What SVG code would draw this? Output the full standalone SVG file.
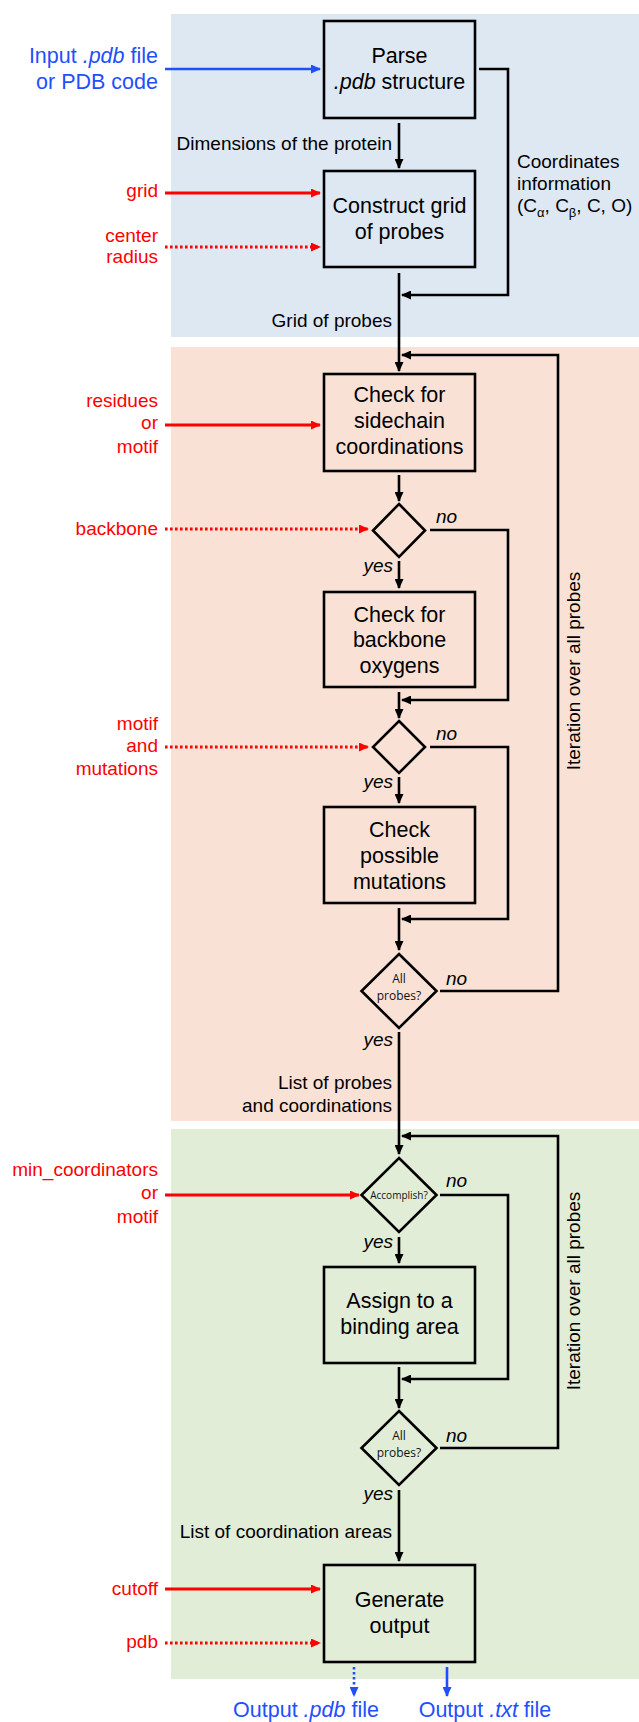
<svg xmlns="http://www.w3.org/2000/svg" width="639" height="1722" viewBox="0 0 639 1722">
<defs>
<style>
text{font-family:"Liberation Sans",Arial,sans-serif;}
.box{fill:none;stroke:#000;stroke-width:2.6;}
.bt{font-size:21.5px;fill:#000;text-anchor:middle;}
.lb{font-size:19px;fill:#000;}
.end{text-anchor:end;}
.it{font-style:italic;}
.red{font-size:19px;fill:#ff0000;text-anchor:end;}
.blue{font-size:21.5px;fill:#1f4fff;}
.dt{font-family:"Open Sans",sans-serif;fill:#111;text-anchor:middle;}
.k{fill:none;stroke:#000;stroke-width:2.6;}
.r{fill:none;stroke:#ff0000;stroke-width:2.8;}
.b{fill:none;stroke:#1f4fff;stroke-width:2.6;}
.dot{stroke-dasharray:2.6 2.4;}
</style>
<marker id="ak" markerUnits="userSpaceOnUse" markerWidth="10" markerHeight="9" refX="9" refY="4.5" orient="auto"><path d="M0,0 L10,4.5 L0,9 z" fill="#000"/></marker>
<marker id="ar" markerUnits="userSpaceOnUse" markerWidth="10" markerHeight="9" refX="9" refY="4.5" orient="auto"><path d="M0,0 L10,4.5 L0,9 z" fill="#ff0000"/></marker>
<marker id="ab" markerUnits="userSpaceOnUse" markerWidth="10" markerHeight="9" refX="9" refY="4.5" orient="auto"><path d="M0,0 L10,4.5 L0,9 z" fill="#1f4fff"/></marker>
</defs>
<rect width="639" height="1722" fill="#fff"/>
<g id="panels">
<rect x="171" y="14" width="468" height="323" fill="#dee8f3"/>
<rect x="171" y="347" width="468" height="774" fill="#f9e2d5"/>
<rect x="171" y="1129" width="468" height="550" fill="#e2edd8"/>
</g>
<g id="connectors">
<line class="b" x1="165" y1="69" x2="320" y2="69" marker-end="url(#ab)"/>
<line class="k" x1="399" y1="123" x2="399" y2="168" marker-end="url(#ak)"/>
<line class="r" x1="165" y1="193" x2="320" y2="193" marker-end="url(#ar)"/>
<line class="r dot" x1="165" y1="247" x2="320" y2="247" marker-end="url(#ar)"/>
<path class="k" d="M479,69 H508 V295 H402" marker-end="url(#ak)"/>
<line class="k" x1="399" y1="273" x2="399" y2="371" marker-end="url(#ak)"/>
<path class="k" d="M440,991 H558 V355 H402" marker-end="url(#ak)"/>
<line class="r" x1="165" y1="425" x2="320" y2="425" marker-end="url(#ar)"/>
<line class="k" x1="399" y1="475" x2="399" y2="501" marker-end="url(#ak)"/>
<path class="k" d="M430,530 H508 V700 H402" marker-end="url(#ak)"/>
<line class="k" x1="399" y1="561" x2="399" y2="588" marker-end="url(#ak)"/>
<line class="r dot" x1="165" y1="529" x2="368" y2="529" marker-end="url(#ar)"/>
<line class="k" x1="399" y1="692" x2="399" y2="718" marker-end="url(#ak)"/>
<path class="k" d="M430,747 H508 V919 H402" marker-end="url(#ak)"/>
<line class="r dot" x1="165" y1="747" x2="368" y2="747" marker-end="url(#ar)"/>
<line class="k" x1="399" y1="777" x2="399" y2="803" marker-end="url(#ak)"/>
<line class="k" x1="399" y1="908" x2="399" y2="950" marker-end="url(#ak)"/>
<line class="k" x1="399" y1="1032" x2="399" y2="1154" marker-end="url(#ak)"/>
<path class="k" d="M440,1448 H558 V1136 H402" marker-end="url(#ak)"/>
<path class="k" d="M440,1195 H508 V1379 H402" marker-end="url(#ak)"/>
<line class="r" x1="165" y1="1195" x2="359" y2="1195" marker-end="url(#ar)"/>
<line class="k" x1="399" y1="1237" x2="399" y2="1263" marker-end="url(#ak)"/>
<line class="k" x1="399" y1="1367" x2="399" y2="1408" marker-end="url(#ak)"/>
<line class="k" x1="399" y1="1490" x2="399" y2="1561" marker-end="url(#ak)"/>
<line class="r" x1="165" y1="1589" x2="320" y2="1589" marker-end="url(#ar)"/>
<line class="r dot" x1="165" y1="1643" x2="320" y2="1643" marker-end="url(#ar)"/>
<line class="b dot" x1="354" y1="1667" x2="354" y2="1696" marker-end="url(#ab)"/>
<line class="b" x1="447" y1="1667" x2="447" y2="1696" marker-end="url(#ab)"/>
</g>
<g id="parse">
<rect class="box" x="324" y="21" width="151" height="97"/>
<text class="bt" x="399.5" y="63">Parse</text>
<text class="bt" x="399.5" y="89"><tspan class="it">.pdb</tspan> structure</text>
</g>
<g id="construct">
<rect class="box" x="324" y="171" width="151" height="96"/>
<text class="bt" x="399.5" y="213">Construct grid</text>
<text class="bt" x="399.5" y="239">of probes</text>
</g>
<g id="sidechain">
<rect class="box" x="324" y="374" width="151" height="97"/>
<text class="bt" x="399.5" y="402">Check for</text>
<text class="bt" x="399.5" y="428">sidechain</text>
<text class="bt" x="399.5" y="454">coordinations</text>
</g>
<g id="dec1"><path class="box" d="M399,504 L425,530.5 L399,557 L373,530.5 Z"/></g>
<g id="backbone">
<rect class="box" x="324" y="592" width="151" height="95"/>
<text class="bt" x="399.5" y="622">Check for</text>
<text class="bt" x="399.5" y="647">backbone</text>
<text class="bt" x="399.5" y="673">oxygens</text>
</g>
<g id="dec2"><path class="box" d="M399,721 L425,747 L399,773 L373,747 Z"/></g>
<g id="mutations">
<rect class="box" x="324" y="807" width="151" height="96"/>
<text class="bt" x="399.5" y="837">Check</text>
<text class="bt" x="399.5" y="863">possible</text>
<text class="bt" x="399.5" y="889">mutations</text>
</g>
<g id="dec3">
<path class="box" d="M399,954 L436.5,991 L399,1028 L361.5,991 Z"/>
<text class="dt" x="399" y="983" font-size="12">All</text>
<text class="dt" x="399" y="1000" font-size="12">probes?</text>
</g>
<g id="dec4">
<path class="box" d="M399,1158 L436.5,1195 L399,1232 L361.5,1195 Z"/>
<text class="dt" x="399" y="1198.5" font-size="10">Accomplish?</text>
</g>
<g id="assign">
<rect class="box" x="324" y="1267" width="151" height="96"/>
<text class="bt" x="399.5" y="1308">Assign to a</text>
<text class="bt" x="399.5" y="1334">binding area</text>
</g>
<g id="dec5">
<path class="box" d="M399,1411 L436.5,1448 L399,1485 L361.5,1448 Z"/>
<text class="dt" x="399" y="1440" font-size="12">All</text>
<text class="dt" x="399" y="1457" font-size="12">probes?</text>
</g>
<g id="generate">
<rect class="box" x="324" y="1565" width="151" height="97"/>
<text class="bt" x="399.5" y="1607">Generate</text>
<text class="bt" x="399.5" y="1633">output</text>
</g>
<g id="labels">
<text class="blue" x="158" y="63" text-anchor="end">Input <tspan class="it">.pdb</tspan> file</text>
<text class="blue" x="158" y="89" text-anchor="end">or PDB code</text>
<text class="lb end" x="392" y="150">Dimensions of the protein</text>
<text class="lb" x="517" y="168">Coordinates</text>
<text class="lb" x="517" y="190">information</text>
<text class="lb" x="517" y="212">(C<tspan font-size="13" dy="5">α</tspan><tspan dy="-5">, C</tspan><tspan font-size="13" dy="5">β</tspan><tspan dy="-5">, C, O)</tspan></text>
<text class="lb end" x="392" y="327">Grid of probes</text>
<text class="red" x="158" y="197">grid</text>
<text class="red" x="158" y="242">center</text>
<text class="red" x="158" y="263">radius</text>
<text class="red" x="158" y="407">residues</text>
<text class="red" x="158" y="429">or</text>
<text class="red" x="158" y="453">motif</text>
<text class="red" x="158" y="535">backbone</text>
<text class="red" x="158" y="730">motif</text>
<text class="red" x="158" y="752">and</text>
<text class="red" x="158" y="775">mutations</text>
<text class="red" x="158" y="1176">min_coordinators</text>
<text class="red" x="158" y="1199">or</text>
<text class="red" x="158" y="1223">motif</text>
<text class="red" x="158" y="1595">cutoff</text>
<text class="red" x="158" y="1648">pdb</text>
<text class="lb it" x="436" y="523">no</text>
<text class="lb it end" x="393" y="572">yes</text>
<text class="lb it" x="436" y="740">no</text>
<text class="lb it end" x="393" y="788">yes</text>
<text class="lb it" x="446" y="985">no</text>
<text class="lb it end" x="393" y="1046">yes</text>
<text class="lb end" x="392" y="1089">List of probes</text>
<text class="lb end" x="392" y="1112">and coordinations</text>
<text class="lb it" x="446" y="1187">no</text>
<text class="lb it end" x="393" y="1248">yes</text>
<text class="lb it" x="446" y="1442">no</text>
<text class="lb it end" x="393" y="1500">yes</text>
<text class="lb end" x="392" y="1538">List of coordination areas</text>
<text class="lb" transform="translate(580,671) rotate(-90)" text-anchor="middle">Iteration over all probes</text>
<text class="lb" transform="translate(580,1291) rotate(-90)" text-anchor="middle">Iteration over all probes</text>
<text class="blue" x="306" y="1717" text-anchor="middle">Output <tspan class="it">.pdb</tspan> file</text>
<text class="blue" x="485" y="1717" text-anchor="middle">Output <tspan class="it">.txt</tspan> file</text>
</g>
</svg>
